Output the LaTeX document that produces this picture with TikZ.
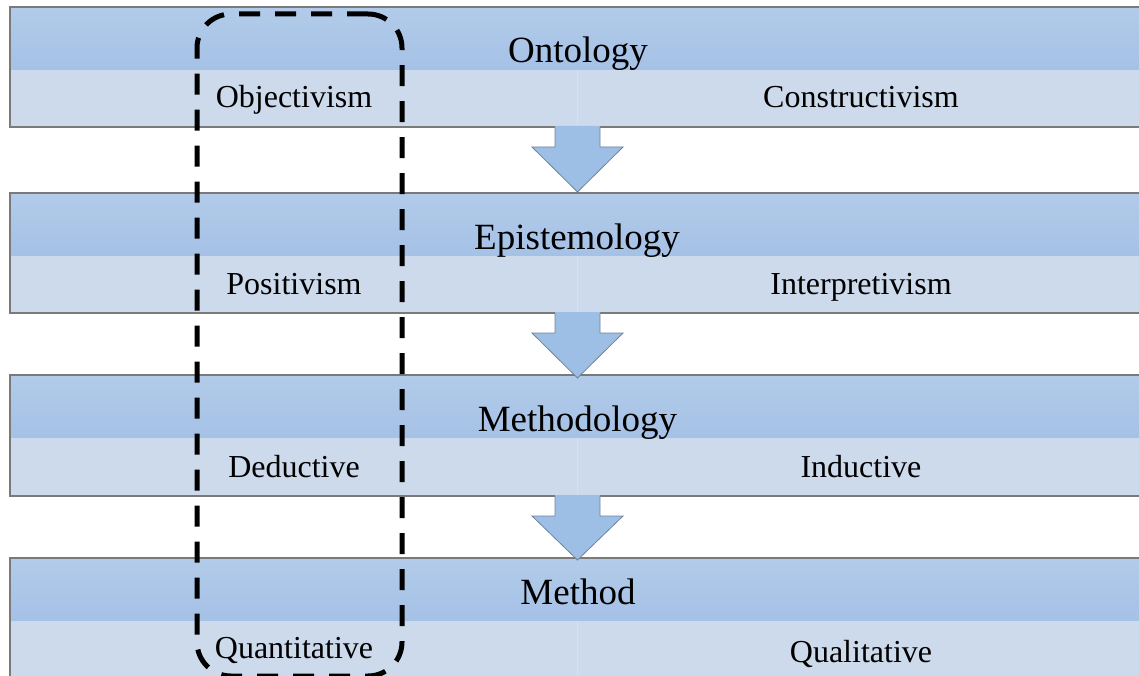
\documentclass[tikz,border=0pt]{standalone}
\usepackage{fontspec}
\setmainfont{Liberation Serif}
\definecolor{hdtop}{HTML}{B2CBE9}
\definecolor{hdbot}{HTML}{A5C1E6}
\definecolor{lowband}{HTML}{CCDAEC}
\definecolor{arrowfill}{HTML}{9DBFE6}
\definecolor{arrowline}{HTML}{71839B}
\definecolor{rowline}{HTML}{7A7A7A}
\definecolor{divline}{HTML}{D6E1EF}
\begin{document}
\begin{tikzpicture}[x=1pt,y=-1pt,
  header/.style={font=\fontsize{37}{44}\selectfont, anchor=base, inner sep=0pt},
  celltext/.style={font=\fontsize{32}{38}\selectfont, anchor=base, inner sep=0pt},
  bigarrowfill/.style={fill=arrowfill},
  bigarrowline/.style={draw=arrowline, line width=0.8pt, line join=miter},
  groupbox/.style={draw=black, line width=5pt, dash pattern=on 21pt off 15pt,
    rounded corners=34pt, outer sep=0pt, inner sep=0pt, anchor=north west},
  rowborder/.style={draw=rowline, line width=1.4pt}]
\useasboundingbox (0,0) rectangle (1139,676);
\fill[white] (0,0) rectangle (1139,676);
% rows
\foreach \t/\b in {7/127,193/313,375/496,558/680}{
  \shade[top color=hdtop, bottom color=hdbot] (10,\t) rectangle (1150,\t+63);
  \fill[lowband] (10,\t+63) rectangle (1150,\b);
  \draw[divline, line width=1pt] (577.5,\t+63) -- (577.5,\b);
  \draw[rowborder] (1150,\t) -- (10,\t) -- (10,\b) -- (1150,\b);
}
% arrows
\foreach \b/\n in {127/192,313/378,496/560}{
  \fill[bigarrowfill] (555,\b-1) -- (600,\b-1) -- (600,\b+20) -- (623,\b+20) -- (577.5,\n)
     -- (532,\b+20) -- (555,\b+20) -- cycle;
  \draw[bigarrowline] (600,\b) -- (600,\b+20) -- (623,\b+20) -- (577.5,\n)
     -- (532,\b+20) -- (555,\b+20) -- (555,\b);
}
% texts
\node[header] (onto) at (578,63) {Ontology};
\node[header] (epis) at (577,249) {Epistemology};
\node[header] (meth) at (577.5,431) {Methodology};
\node[header] (mthd) at (578,604) {Method};
\node[celltext] (obj) at (294,108) {Objectivism};
\node[celltext] (con) at (861,108) {Constructivism};
\node[celltext] (pos) at (294,294) {Positivism};
\node[celltext] (int) at (861,294) {Interpretivism};
\node[celltext] (ded) at (294,477) {Deductive};
\node[celltext] (ind) at (861,477) {Inductive};
\node[celltext] (qnt) at (294,658) {Quantitative};
\node[celltext] (qlt) at (861,662) {Qualitative};
% dashed group box
\node[groupbox, minimum width=205pt, minimum height=662pt] (leftcol) at (197,14) {};
\end{tikzpicture}
\end{document}
